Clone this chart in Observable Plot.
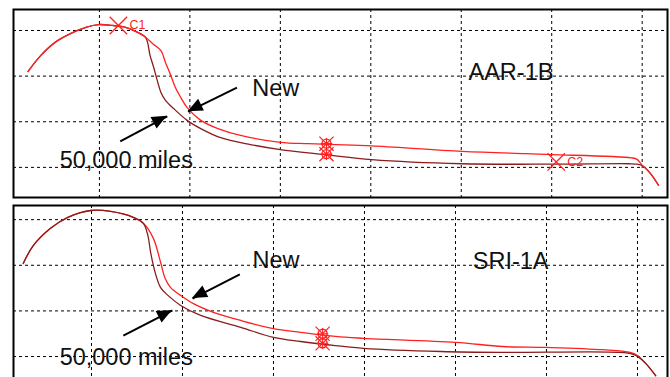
<!DOCTYPE html>
<html><head><meta charset="utf-8">
<script src="https://cdn.jsdelivr.net/npm/d3@7"></script>
<script src="https://cdn.jsdelivr.net/npm/@observablehq/plot@0.6"></script>
<style>
html,body{margin:0;padding:0;background:#fff;overflow:hidden;}
#wrap{position:relative;width:670px;height:377px;overflow:hidden;background:#fff;}
#wrap svg{position:absolute;left:0;}
</style>
</head><body><div id="wrap"></div>
<script>
// ---- grid ticks ----
const gridXTicks = [1, 2, 3, 4, 5, 6, 7];
const gridYTicks = [1, 2, 3, 4];

// ---- top panel (AAR-1B) ----
const topNewX = [0.21,0.35,0.51,0.68,0.85,0.99,1.14,1.29,1.40,1.51,1.59,1.68,1.73,1.79,1.84,1.90,1.97,2.12,2.31,2.56,3.00,3.30,3.61,4.01,5.01,5.71,6.01,6.88,6.94,7.00,7.09,7.18];
const topNewY = [3.10,3.45,3.74,3.93,4.07,4.13,4.11,4.07,3.98,3.85,3.71,3.56,3.30,3.01,2.75,2.53,2.31,2.03,1.85,1.70,1.55,1.52,1.50,1.47,1.35,1.30,1.28,1.21,1.18,1.05,0.87,0.61];
const topOldX = [0.21,0.35,0.51,0.68,0.85,0.99,1.14,1.29,1.40,1.51,1.56,1.60,1.64,1.68,1.73,1.82,1.97,2.12,2.34,2.67,3.00,3.50,4.01,5.01,6.01,6.85,6.95,7.00,7.09,7.18];
const topOldY = [3.10,3.45,3.74,3.93,4.07,4.13,4.11,4.07,3.98,3.85,3.45,3.19,2.90,2.64,2.47,2.29,2.03,1.85,1.65,1.50,1.39,1.28,1.17,1.08,1.07,1.08,1.07,1.04,0.87,0.61];
const topMarkX = [1.21, 6.05];
const topMarkY = [4.11, 1.12];
const topMarkLabel = ["C1", "C2"];
const topClusterX = [3.51, 3.51];
const topClusterY = [1.52, 1.29];
const topTextLabel = ["New", "50,000 miles", "AAR-1B"];
const topTextX = [2.69, 0.56, 5.08];
const topTextY = [2.72, 1.15, 3.09];
const topArrowX1 = [2.52, 1.23], topArrowY1 = [2.75, 1.57];
const topArrowX2 = [1.98, 1.75], topArrowY2 = [2.22, 2.12];

// ---- bottom panel (SRI-1A) ----
const botNewX = [0.25,0.36,0.55,0.74,0.99,1.21,1.46,1.57,1.68,1.76,1.81,1.87,1.98,2.12,2.34,2.64,3.00,3.30,3.68,3.99,5.00,5.52,6.00,6.62,6.92,7.00,7.09,7.20];
const botNewY = [3.04,3.43,3.81,4.05,4.20,4.18,4.05,3.92,3.59,3.06,2.71,2.51,2.34,2.16,1.97,1.79,1.61,1.53,1.44,1.40,1.31,1.22,1.20,1.15,1.09,1.02,0.85,0.58];
const botOldX = [0.25,0.36,0.55,0.74,0.99,1.21,1.46,1.57,1.62,1.65,1.70,1.76,1.84,1.98,2.20,2.64,3.00,3.30,3.68,3.99,4.84,5.50,6.81,6.95,7.00,7.09,7.20];
const botOldY = [3.04,3.43,3.81,4.05,4.20,4.18,4.05,3.92,3.65,3.28,2.84,2.51,2.34,2.12,1.90,1.64,1.42,1.33,1.24,1.18,1.11,1.09,1.09,1.05,1.00,0.85,0.58];
const botClusterX = [3.54, 3.54];
const botClusterY = [1.50, 1.29];
const botTextLabel = ["New", "50,000 miles", "SRI-1A"];
const botTextX = [2.77, 0.65, 5.19];
const botTextY = [3.10, 0.99, 3.09];
const botArrowX1 = [2.63, 1.35], botArrowY1 = [2.80, 1.46];
const botArrowX2 = [2.11, 1.89], botArrowY2 = [2.27, 2.01];

const RED = "#ff2020";
const DARK = "#8a1c1c";
const FONT = "Liberation Sans, Arial, sans-serif";

const rows = (xs, ys) => xs.map((x, i) => ({x, y: ys[i]}));

function arrowHeads(x1, y1, x2, y2) {
  return (index, scales) => {
    const g = d3.create("svg:g");
    for (let i = 0; i < x1.length; i++) {
      const ax = scales.x(x1[i]), ay = scales.y(y1[i]);
      const bx = scales.x(x2[i]), by = scales.y(y2[i]);
      const a = Math.atan2(by - ay, bx - ax);
      const L = 15, W = 6.5;
      const cx = bx - L * Math.cos(a), cy = by - L * Math.sin(a);
      const p = [[bx, by], [cx + W * Math.sin(a), cy - W * Math.cos(a)], [cx - W * Math.sin(a), cy + W * Math.cos(a)]];
      g.append("path").attr("d", "M" + p.map(q => q.join(",")).join("L") + "Z").attr("fill", "black");
    }
    return g.node();
  };
}

function panel(o) {
  const marks = [
    Plot.ruleX(gridXTicks, {stroke: "black", strokeWidth: 1, strokeDasharray: "3,3"}),
    Plot.ruleY(gridYTicks, {stroke: "black", strokeWidth: 1, strokeDasharray: "3,3"})
  ];
  const newLine = Plot.line(rows(o.newX, o.newY), {x: "x", y: "y", stroke: RED, strokeWidth: 1.3, curve: "catmull-rom"});
  const oldLine = Plot.line(rows(o.oldX, o.oldY), {x: "x", y: "y", stroke: DARK, strokeWidth: 1.3, curve: "catmull-rom"});
  if (o.redOnTop) marks.push(oldLine, newLine); else marks.push(newLine, oldLine);
  const cl = rows(o.clusterX, o.clusterY);
  marks.push(
    Plot.dot(cl, {x: "x", y: "y", symbol: "times", r: 6.5, stroke: RED, strokeWidth: 1.2}),
    Plot.dot(cl, {x: "x", y: "y", symbol: "circle", r: 4.5, stroke: RED, strokeWidth: 1.4}),
    Plot.dot(cl, {x: "x", y: "y", symbol: "plus", r: 3.8, stroke: RED, strokeWidth: 1.1})
  );
  if (o.markX) {
    const m = o.markX.map((x, i) => ({x, y: o.markY[i], t: o.markLabel[i]}));
    marks.push(
      Plot.dot(m, {x: "x", y: "y", symbol: "times", r: 8, stroke: RED, strokeWidth: 1.3}),
      Plot.text(m, {x: "x", y: "y", text: "t", fill: RED, fontSize: 12.5, textAnchor: "start", dx: 11, fontFamily: FONT})
    );
  }
  const t = o.textLabel.map((s, i) => ({x: o.textX[i], y: o.textY[i], s}));
  marks.push(Plot.text(t, {x: "x", y: "y", text: "s", fontSize: 23.5, fill: "#111", textAnchor: "start", fontFamily: FONT}));
  const ar = o.ax1.map((x, i) => ({x1: x, y1: o.ay1[i], x2: o.ax2[i], y2: o.ay2[i]}));
  marks.push(Plot.link(ar, {x1: "x1", y1: "y1", x2: "x2", y2: "y2", stroke: "black", strokeWidth: 2}));
  marks.push(arrowHeads(o.ax1, o.ay1, o.ax2, o.ay2));
  marks.push(Plot.frame({stroke: "black", strokeWidth: 2}));
  const svg = Plot.plot({
    width: 670, height: 200,
    marginTop: 9, marginBottom: 3, marginLeft: 13, marginRight: 3,
    x: {domain: o.xDomain, axis: null},
    y: {domain: o.yDomain, axis: null},
    style: {background: "transparent", overflow: "visible"},
    marks
  });
  svg.style.top = o.top + "px";
  return svg;
}

const wrap = document.getElementById("wrap");
wrap.appendChild(panel({
  top: 0, xDomain: [0.05, 7.28], yDomain: [0.34, 4.46], redOnTop: true,
  newX: topNewX, newY: topNewY, oldX: topOldX, oldY: topOldY,
  clusterX: topClusterX, clusterY: topClusterY,
  markX: topMarkX, markY: topMarkY, markLabel: topMarkLabel,
  textLabel: topTextLabel, textX: topTextX, textY: topTextY,
  ax1: topArrowX1, ay1: topArrowY1, ax2: topArrowX2, ay2: topArrowY2
}));
wrap.appendChild(panel({
  top: 196, xDomain: [0.143, 7.33], yDomain: [0.19, 4.31], redOnTop: false,
  newX: botNewX, newY: botNewY, oldX: botOldX, oldY: botOldY,
  clusterX: botClusterX, clusterY: botClusterY,
  textLabel: botTextLabel, textX: botTextX, textY: botTextY,
  ax1: botArrowX1, ay1: botArrowY1, ax2: botArrowX2, ay2: botArrowY2
}));
</script>
</body></html>
